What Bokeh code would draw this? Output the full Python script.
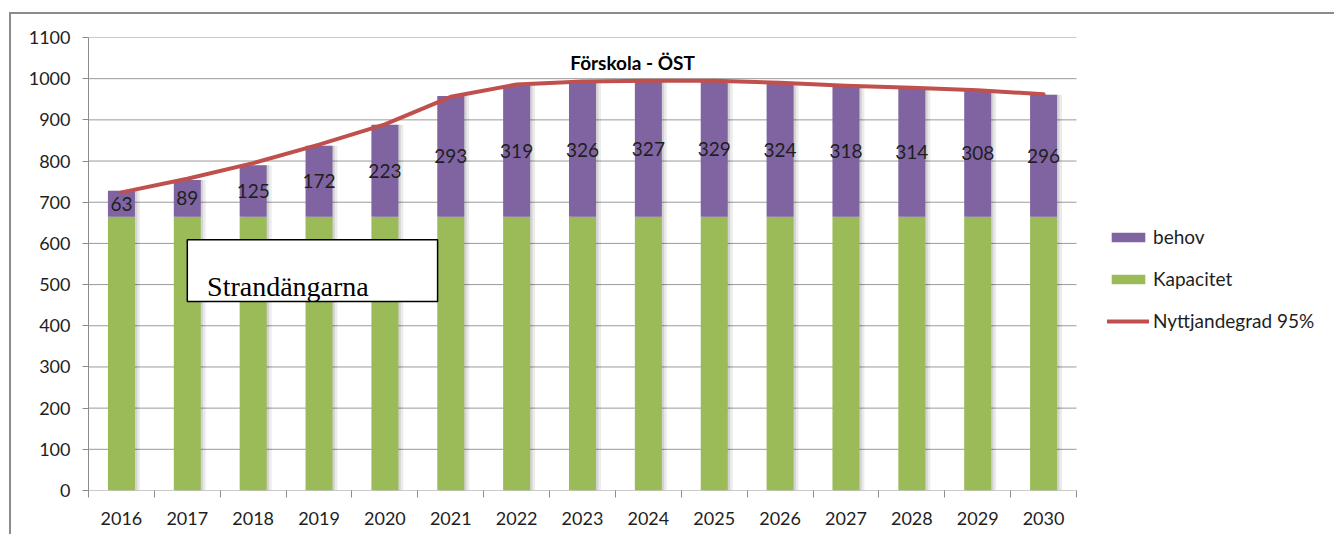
from bokeh.plotting import figure
from bokeh.models import (ColumnDataSource, FixedTicker, Legend, LegendItem, Label,
                          BoxAnnotation, Range1d)
from bokeh.core.properties import value
from bokeh.embed import file_html
from bokeh.resources import INLINE

# ---- data ----
years = ["2016", "2017", "2018", "2019", "2020", "2021", "2022", "2023",
         "2024", "2025", "2026", "2027", "2028", "2029", "2030"]
kapacitet = [665] * 15
behov = [63, 89, 125, 172, 223, 293, 319, 326, 327, 329, 324, 318, 314, 308, 296]
nyttjandegrad = [724, 757, 795, 840, 889, 956, 986, 993, 995, 995, 990, 983, 978, 972, 962]
y_ticks = list(range(0, 1101, 100))

FONT = "Lato"
GREEN = "#9BBB59"
PURPLE = "#8064A2"
RED = "#C0504D"
AXIS = "#8c8c8c"
GRID = "#9a9a9a"
TEXT = "#1e1e1e"
BAR_W = 0.41

n = len(years)
xs = list(range(n))
total = [k + b for k, b in zip(kapacitet, behov)]
src = ColumnDataSource(dict(
    x=xs,
    kap=kapacitet,
    beh=behov,
    total=total,
    ly=[k + b / 2 for k, b in zip(kapacitet, behov)],
    lab=[str(b) for b in behov],
    line=nyttjandegrad,
    xs1=[i + 0.035 for i in xs],
    xs2=[i + 0.075 for i in xs],
))

# layout (pixels)
W, H = 1325, 522
ML, MR, MT, MB = 77, 0, 23, 46
PLOT_PX = 988                     # pixel width of the category area
frame_w = W - ML - MR
x_end = -0.5 + n * frame_w / PLOT_PX   # extra room on the right holds the legend

p = figure(width=W, height=H, x_range=Range1d(-0.5, x_end), y_range=Range1d(0, 1100),
           output_backend="svg", toolbar_location=None,
           min_border_left=ML, min_border_right=MR, min_border_top=MT, min_border_bottom=MB)
p.styles = {"margin-left": "9px", "margin-top": "12px",
            "border-left": "2px solid #8c8c8c", "border-top": "2px solid #8c8c8c"}
p.outline_line_color = None
p.background_fill_color = "white"

# grid (limited to the category area)
p.xgrid.grid_line_color = None
p.ygrid.grid_line_color = None
p.segment(x0=[-0.5] * len(y_ticks), x1=[n - 0.5] * len(y_ticks), y0=y_ticks, y1=y_ticks,
          line_color=GRID, line_width=1)

# shadows
p.vbar(x="xs2", top="total", bottom=0, width=BAR_W, source=src,
       fill_color="black", fill_alpha=0.08, line_color=None)
p.vbar(x="xs1", top="total", bottom=0, width=BAR_W, source=src,
       fill_color="black", fill_alpha=0.10, line_color=None)

r_kap = p.vbar(x="x", top="kap", bottom=0, width=BAR_W, source=src,
               fill_color=GREEN, line_color=None)
r_beh = p.vbar(x="x", top="total", bottom="kap", width=BAR_W, source=src,
               fill_color=PURPLE, line_color=None)

r_line = p.line(x="x", y="line", source=src, line_color=RED, line_width=4,
                line_join="round", line_cap="round")

p.text(x="x", y="ly", text="lab", source=src, text_align="center", text_baseline="middle",
       text_font=value(FONT), text_font_size="19px", text_color=TEXT)

# axes
yax = p.yaxis[0]
yax.ticker = FixedTicker(ticks=y_ticks, minor_ticks=[])
yax.axis_line_color = AXIS
yax.major_tick_line_color = AXIS
yax.major_tick_out = 6
yax.major_tick_in = 0
yax.minor_tick_line_color = None
yax.major_label_text_font = FONT
yax.major_label_text_font_size = "18px"
yax.major_label_text_color = TEXT
yax.major_label_standoff = 12

xax = p.xaxis[0]
xax.ticker = FixedTicker(ticks=xs, minor_ticks=[i - 0.5 for i in range(n + 1)])
xax.major_label_overrides = {i: y for i, y in zip(xs, years)}
xax.axis_line_color = None
xax.major_tick_line_color = None
xax.major_tick_out = 0
xax.major_tick_in = 0
xax.minor_tick_line_color = AXIS
xax.minor_tick_out = 7
xax.minor_tick_in = 0
xax.major_label_text_font = FONT
xax.major_label_text_font_size = "18px"
xax.major_label_text_color = TEXT
xax.major_label_standoff = 14

# title inside plot
p.add_layout(Label(x=7.76, y=1039, text="Förskola - ÖST", text_align="center",
                   text_baseline="middle", text_font=FONT, text_font_size="19px",
                   text_font_style="bold", text_color="black"))

# text box
p.add_layout(BoxAnnotation(left=1.0, right=4.8, bottom=459, top=609, fill_color="white",
                           fill_alpha=1.0, line_color="black", line_width=1.5, line_alpha=1.0))
p.add_layout(Label(x=1.3, y=496, text="Strandängarna", text_align="left",
                   text_baseline="alphabetic", text_font="Liberation Serif",
                   text_font_size="28px", text_color="black"))

legend = Legend(items=[LegendItem(label="behov", renderers=[r_beh]),
                       LegendItem(label="Kapacitet", renderers=[r_kap]),
                       LegendItem(label="Nyttjandegrad 95%", renderers=[r_line])],
                location=(1019, 158), glyph_width=42, glyph_height=12,
                label_text_font=FONT, label_text_font_size="19px", label_text_color=TEXT,
                label_height=22, spacing=19, label_standoff=4, padding=0, margin=0,
                border_line_color=None, background_fill_alpha=0)
p.add_layout(legend, "center")

open("out.html", "w").write(file_html(p, INLINE))
